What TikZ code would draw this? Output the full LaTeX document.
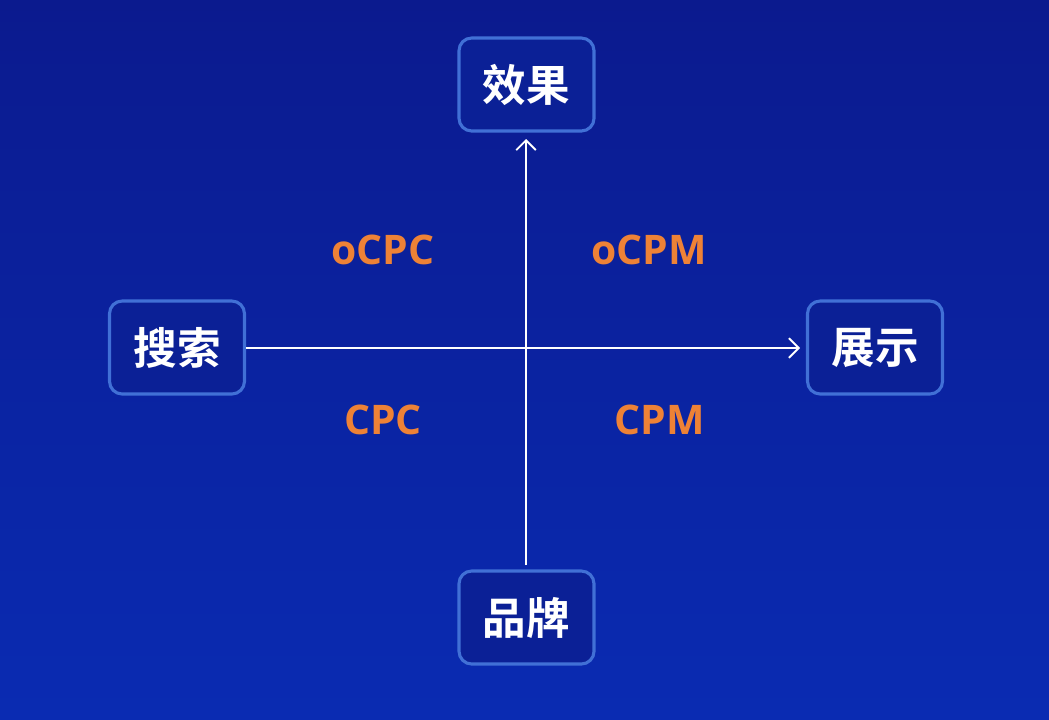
\documentclass[tikz,border=0pt]{standalone}
\usepackage{fontspec}
\newfontfamily\cjk{Noto Sans CJK SC}[BoldFont={* Bold}]
\setmainfont{Open Sans}
\usetikzlibrary{arrows.meta}
\definecolor{bgtop}{HTML}{0B1A8E}
\definecolor{bgbot}{HTML}{0A2BB2}
\definecolor{boxfill}{HTML}{0B2096}
\definecolor{boxline}{HTML}{4170D6}
\definecolor{org}{HTML}{EE8236}
\tikzset{
  box/.style={draw=boxline, line width=2.2pt, fill=boxfill, rounded corners=9pt, minimum width=135*0.025cm, minimum height=93*0.025cm, text=white, font=\cjk\bfseries\fontsize{31}{34}\selectfont},
  lab/.style={text=org, font=\bfseries\fontsize{29}{32}\selectfont},
  axis/.style={white, line width=1.3pt, -{Straight Barb[length=7pt,width=14pt,line width=1.3pt]}}
}
\begin{document}
\begin{tikzpicture}[x=0.025cm,y=-0.025cm]
\shade[top color=bgtop, bottom color=bgbot] (0,0) rectangle (1049,719);
\useasboundingbox (0,0) rectangle (1049,719);
\node[box] (xg) at (526.5,84.5) {效果};
\node[box] (ss) at (177,347.5) {搜索};
\node[box] (zs) at (875,347.5) {展示};
\node[box] (pp) at (526.5,617.5) {品牌};
\coordinate (r) at (800,348);
\coordinate (t) at (526,139);
\draw[axis] (ss.east |- 0,348) -- (r);
\draw[axis] (526,565) -- (t);
\node[lab] (a) at (383,250) {oCPC};
\node[lab] (b) at (649,250) {oCPM};
\node[lab] (c) at (383,420) {CPC};
\node[lab] (d) at (660,420) {CPM};
\end{tikzpicture}
\end{document}
